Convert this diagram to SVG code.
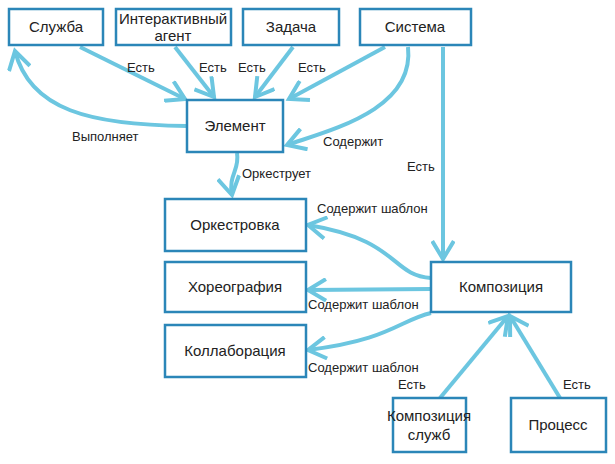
<svg xmlns="http://www.w3.org/2000/svg" width="615" height="464" viewBox="0 0 615 464">
<style>
.b{fill:#fff;stroke:#2b86b8;stroke-width:2.5}
.t{font-family:"Liberation Sans",Arial,sans-serif;font-size:15px;fill:#222;text-anchor:middle}
.l{font-family:"Liberation Sans",Arial,sans-serif;font-size:13px;fill:#222}
.c{fill:none;stroke:#6cc6e0;stroke-width:4}
</style>
<defs><marker id="a" markerWidth="6" markerHeight="6" refX="5" refY="3" orient="auto" markerUnits="strokeWidth"><path d="M0.5,0.3 L5,3 L0.5,5.7" fill="none" stroke="#6cc6e0" stroke-width="1"/></marker></defs>
<rect width="615" height="464" fill="#fff"/>
<g id="connectors">
<path class="c" marker-end="url(#a)" d="M80,47 L185,99"/>
<path class="c" marker-end="url(#a)" d="M175,47 L214,97"/>
<path class="c" marker-end="url(#a)" d="M293,47 L255,97"/>
<path class="c" marker-end="url(#a)" d="M385,47 L289,99"/>
<path class="c" marker-end="url(#a)" d="M408,47 C415,110 330,130 287,145"/>
<path class="c" marker-end="url(#a)" d="M187,126 C90,125 30,110 15,51"/>
<path class="c" marker-end="url(#a)" d="M237,153 C240,170 228,175 232,195"/>
<path class="c" marker-end="url(#a)" d="M443,47 L443,259"/>
<path class="c" marker-end="url(#a)" d="M431,278 C390,275 400,240 308,225"/>
<path class="c" marker-end="url(#a)" d="M431,289 L308,290"/>
<path class="c" marker-end="url(#a)" d="M431,313 C400,320 390,340 308,350"/>
<path class="c" marker-end="url(#a)" d="M440,398 L508,316"/>
<path class="c" marker-end="url(#a)" d="M560,398 L510,316"/>
<text class="l" x="127" y="72">Есть</text>
<text class="l" x="199" y="72">Есть</text>
<text class="l" x="238" y="72">Есть</text>
<text class="l" x="298" y="72">Есть</text>
<text class="l" x="323" y="146">Содержит</text>
<text class="l" x="72" y="141">Выполняет</text>
<text class="l" x="242" y="178">Оркеструет</text>
<text class="l" x="407" y="171">Есть</text>
<text class="l" x="317" y="213">Содержит шаблон</text>
<text class="l" x="308" y="309">Содержит шаблон</text>
<text class="l" x="308" y="372">Содержит шаблон</text>
<text class="l" x="398" y="389">Есть</text>
<text class="l" x="563" y="389">Есть</text>
</g>
<g id="sluzhba"><rect class="b" x="9" y="9" width="94" height="36"/><text class="t" x="56" y="32">Служба</text></g>
<g id="agent"><rect class="b" x="116" y="9" width="115" height="36"/><text class="t" x="173" y="24">Интерактивный</text><text class="t" x="173" y="41">агент</text></g>
<g id="zadacha"><rect class="b" x="243" y="9" width="96" height="36"/><text class="t" x="291" y="32">Задача</text></g>
<g id="sistema"><rect class="b" x="360" y="9" width="111" height="36"/><text class="t" x="415" y="32">Система</text></g>
<g id="element"><rect class="b" x="187" y="100" width="96" height="52"/><text class="t" x="235" y="131">Элемент</text></g>
<g id="orch"><rect class="b" x="165" y="199" width="141" height="52"/><text class="t" x="235" y="230">Оркестровка</text></g>
<g id="chor"><rect class="b" x="165" y="262" width="141" height="50"/><text class="t" x="235" y="292">Хореография</text></g>
<g id="collab"><rect class="b" x="165" y="325" width="141" height="52"/><text class="t" x="235" y="356">Коллаборация</text></g>
<g id="comp"><rect class="b" x="431" y="262" width="140" height="50"/><text class="t" x="501" y="292">Композиция</text></g>
<g id="compsl"><rect class="b" x="393" y="398" width="73" height="54"/><text class="t" x="429" y="421">Композиция</text><text class="t" x="429" y="440">служб</text></g>
<g id="proc"><rect class="b" x="511" y="398" width="95" height="54"/><text class="t" x="558" y="430">Процесс</text></g>
</svg>
